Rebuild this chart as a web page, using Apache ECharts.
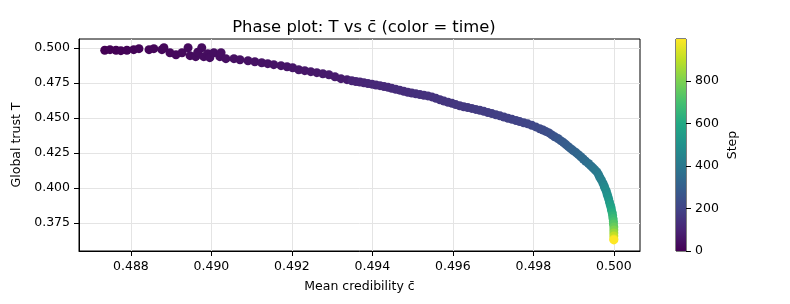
<!DOCTYPE html>
<html>
<head>
<meta charset="utf-8">
<script src="https://cdn.jsdelivr.net/npm/echarts@6/dist/echarts.min.js"></script>
</head>
<body style="margin:0">
<div id="container" style="width:790px;height:304px"></div>
<script>
// simulation step of every plotted state
var steps = [
    0, 2, 4, 6, 8, 10, 12, 14, 16, 18, 19, 21, 23, 25, 26, 28, 30, 31, 31, 33, 34, 35, 36, 37, 38, 40, 42,
    44, 46, 48, 50, 52, 54, 56, 58, 60, 62, 64, 66, 68, 70, 72, 74, 76, 78,
    100, 102, 104, 107, 109, 111, 113, 116, 118, 120, 122, 125, 127, 129, 131, 134, 136, 138, 141, 143,
    145, 148, 150, 152, 155, 157, 160, 162, 164, 167, 169, 172, 174, 177, 179, 181, 184, 186, 189, 191,
    194, 196, 198, 203, 207, 212, 217, 222,
    226, 231, 237, 246, 255, 264, 272, 280, 287, 294, 302, 310, 318, 326, 334, 343, 352, 362, 372, 381,
    390, 400, 410, 421, 432, 444, 455, 466, 478, 490, 503, 518, 535, 555, 575, 597, 620, 645, 672, 700,
    730, 765, 805, 850, 905, 960, 999
];
// mean credibility c-bar
var credibility = [
    0.48735, 0.48748, 0.48763, 0.48775, 0.48790, 0.48807, 0.48820, 0.48845, 0.48857, 0.48877, 0.48882,
    0.48897, 0.48912, 0.48927, 0.48942, 0.48947, 0.48961, 0.48976, 0.48966, 0.48981, 0.48991, 0.48996,
    0.49006, 0.49021, 0.49024, 0.49036, 0.49056,
    0.49071, 0.49091, 0.49108, 0.49125, 0.49140, 0.49155, 0.49173, 0.49188, 0.49202, 0.49217, 0.49232,
    0.49247, 0.49262, 0.49277, 0.49292, 0.49307, 0.49322, 0.49337,
    0.49349, 0.49359, 0.49369, 0.49379, 0.49389, 0.49399, 0.49409, 0.49419, 0.49429, 0.49439, 0.49448,
    0.49458, 0.49468, 0.49478, 0.49488, 0.49498, 0.49508, 0.49518, 0.49528, 0.49538, 0.49548, 0.49558,
    0.49568, 0.49578, 0.49588, 0.49598, 0.49607, 0.49617, 0.49627, 0.49637, 0.49647, 0.49657, 0.49667,
    0.49677, 0.49687, 0.49697, 0.49707, 0.49717, 0.49727, 0.49737, 0.49747, 0.49757, 0.49766, 0.49776,
    0.49786, 0.49796, 0.49806, 0.49816,
    0.49824, 0.49831, 0.49839, 0.49846, 0.49853, 0.49861, 0.49868, 0.49875, 0.49881, 0.49887, 0.49893,
    0.49899, 0.49906, 0.49912, 0.49918, 0.49924, 0.49930, 0.49937, 0.49943, 0.49948, 0.49953, 0.49958,
    0.49962, 0.49965, 0.49969, 0.49973, 0.49976, 0.49978, 0.49981, 0.49983, 0.49985, 0.49987, 0.49989,
    0.49991, 0.49993, 0.49994, 0.49996, 0.49997, 0.49998, 0.49999, 0.49999, 0.50000, 0.50000, 0.50000,
    0.50000, 0.50000, 0.50000
];
// global trust T
var trust = [
    0.4984, 0.4988, 0.4984, 0.4981, 0.4984, 0.4988, 0.4995, 0.4988, 0.4995, 0.4988, 0.5002,
    0.4966, 0.4952, 0.4966, 0.5002, 0.4945, 0.4938, 0.5002, 0.4970, 0.4938, 0.4959, 0.4931,
    0.4966, 0.4938, 0.4966, 0.4924, 0.4924,
    0.4916, 0.4909, 0.4902, 0.4895, 0.4888, 0.4881, 0.4874, 0.4866, 0.4859, 0.4845, 0.4838,
    0.4831, 0.4824, 0.4816, 0.4809, 0.4795, 0.4781, 0.4774,
    0.4766, 0.4761, 0.4757, 0.4752, 0.4747, 0.4742, 0.4736, 0.4731, 0.4725, 0.4719, 0.4713,
    0.4706, 0.4699, 0.4691, 0.4684, 0.4678, 0.4673, 0.4668, 0.4663, 0.4658, 0.4651, 0.4641,
    0.4631, 0.4621, 0.4613, 0.4605, 0.4596, 0.4588, 0.4581, 0.4575, 0.4569, 0.4562, 0.4556,
    0.4548, 0.4540, 0.4532, 0.4524, 0.4516, 0.4508, 0.4499, 0.4491, 0.4483, 0.4475, 0.4467,
    0.4459, 0.4449, 0.4437, 0.4424,
    0.4415, 0.4405, 0.4394, 0.4380, 0.4367, 0.4354, 0.4339, 0.4325, 0.4311, 0.4296, 0.4282,
    0.4268, 0.4254, 0.4239, 0.4224, 0.4208, 0.4192, 0.4176, 0.4159, 0.4145, 0.4131, 0.4116,
    0.4097, 0.4078, 0.4059, 0.4036, 0.4016, 0.3999, 0.3981, 0.3961, 0.3943, 0.3924, 0.3902,
    0.3881, 0.3863, 0.3844, 0.3824, 0.3804, 0.3783, 0.3763, 0.3745, 0.3724, 0.3702, 0.3681,
    0.3659, 0.3638, 0.3631
];
var xTicks = [0.488, 0.490, 0.492, 0.494, 0.496, 0.498, 0.500];
var yTicks = [0.375, 0.400, 0.425, 0.450, 0.475, 0.500];
var stepTicks = [0, 200, 400, 600, 800];
var viridis = ['#440154', '#482475', '#414487', '#355f8d', '#2a788e', '#21918c',
               '#22a884', '#44bf70', '#7ad151', '#bddf26', '#fde725'];

var points = steps.map(function (s, i) {
    return [credibility[i], trust[i], s];
});
var font = 'DejaVu Sans';
var gradStops = viridis.map(function (c, i) {
    return { offset: i / (viridis.length - 1), color: c };
});

var myChart = echarts.init(document.getElementById('container'));
var option = {
    animation: false,
    backgroundColor: '#fff',
    textStyle: { fontFamily: font },
    title: {
        text: 'Phase plot: T vs c\u0304 (color = time)',
        left: 359,
        textAlign: 'center',
        top: 15,
        textStyle: { fontFamily: font, fontWeight: 'normal', fontSize: 16.4, color: '#000' }
    },
    grid: [
        { left: 79, top: 39, right: 150, bottom: 53, show: true, borderColor: '#000', borderWidth: 1 },
        { left: 676, top: 39, width: 10, bottom: 53, show: true, borderColor: '#000', borderWidth: 1 }
    ],
    visualMap: {
        type: 'continuous', show: false, seriesIndex: 0, dimension: 2,
        min: 0, max: 999, inRange: { color: viridis }
    },
    xAxis: [{
        type: 'value', min: 0.48671, max: 0.50065,
        name: 'Mean credibility c\u0304', nameLocation: 'middle', nameGap: 29,
        nameTextStyle: { fontFamily: font, fontSize: 12.5, color: '#000' },
        axisLine: { show: true, lineStyle: { color: '#000' } },
        axisTick: { show: true, customValues: xTicks, length: 5, lineStyle: { color: '#000' } },
        axisLabel: {
            customValues: xTicks, margin: 9, color: '#000', fontSize: 12.5,
            formatter: function (v) { return v.toFixed(3); }
        },
        splitLine: { show: true, lineStyle: { color: '#e4e4e4' } }
    }, {
        type: 'category', gridIndex: 1, data: ['bar'], show: false
    }],
    yAxis: [{
        type: 'value', min: 0.3552, max: 0.5064,
        name: 'Global trust T', nameLocation: 'middle', nameGap: 56, nameRotate: 90,
        nameTextStyle: { fontFamily: font, fontSize: 12.5, color: '#000' },
        axisLine: { show: true, lineStyle: { color: '#000' } },
        axisTick: { show: true, customValues: yTicks, length: 5, lineStyle: { color: '#000' } },
        axisLabel: {
            customValues: yTicks, margin: 9, color: '#000', fontSize: 12.5,
            formatter: function (v) { return v.toFixed(3); }
        },
        splitLine: { show: true, lineStyle: { color: '#e4e4e4' } }
    }, {
        type: 'value', gridIndex: 1, position: 'right', min: 0, max: 999,
        name: 'Step', nameLocation: 'middle', nameGap: 40, nameRotate: 90,
        nameTextStyle: { fontFamily: font, fontSize: 12.5, color: '#000' },
        axisLine: { show: false },
        axisTick: { show: true, customValues: stepTicks, length: 5, lineStyle: { color: '#000' } },
        axisLabel: { customValues: stepTicks, margin: 9, color: '#000', fontSize: 12.5 },
        splitLine: { show: false }
    }],
    series: [{
        type: 'scatter',
        data: points,
        symbolSize: 9,
        itemStyle: { opacity: 1 }
    }, {
        type: 'bar',
        xAxisIndex: 1, yAxisIndex: 1,
        data: [999],
        barWidth: '100%',
        silent: true,
        itemStyle: { color: new echarts.graphic.LinearGradient(0, 1, 0, 0, gradStops) }
    }]
};
myChart.setOption(option);
</script>
</body>
</html>
